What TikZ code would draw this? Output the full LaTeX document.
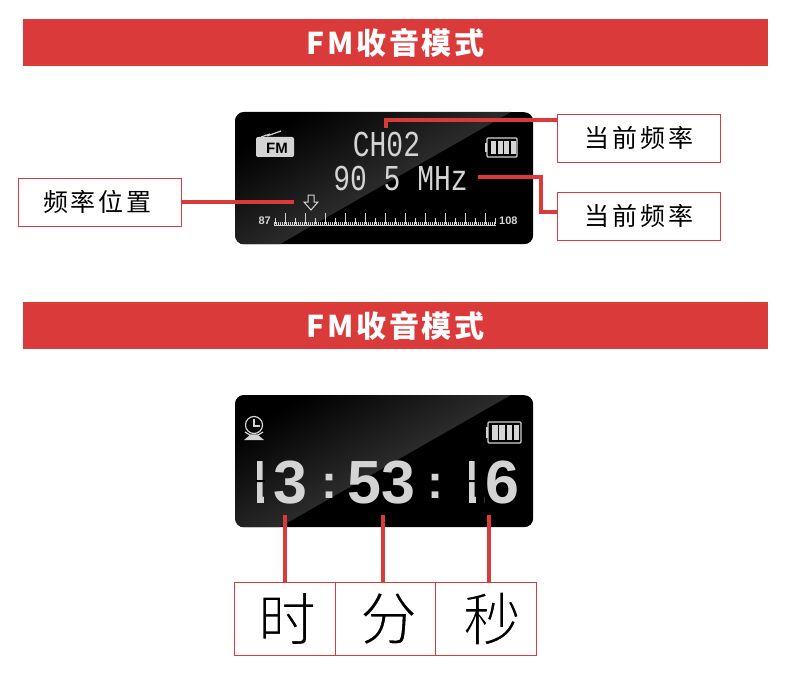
\documentclass[tikz,border=0pt]{standalone}
\usepackage{fontspec}
\usetikzlibrary{positioning}
\newfontfamily\cjk[LetterSpace=12]{Noto Sans CJK SC}
\newfontfamily\cjkbig{Noto Sans CJK SC}
\newfontfamily\cjktitle[LetterSpace=9]{Noto Sans CJK SC}
\newfontfamily\lcdfont{Liberation Mono}
\newfontfamily\digitfont{Liberation Sans}
\setsansfont{Liberation Sans}
\definecolor{bannerred}{HTML}{DB3A3A}
\definecolor{lcdgray}{HTML}{D4D4D4}
\newcommand{\thinglyph}[2]{\special{pdf:code 2 Tr 1 1 1 RG #1 w}#2\special{pdf:code 0 Tr 0 0 0 RG 1 w}}
\begin{document}
\begin{tikzpicture}[x=1pt,y=-1pt,
  banner/.style={fill=bannerred,text=white,minimum width=745pt,minimum height=47pt,inner sep=0pt,font=\cjktitle\bfseries\fontsize{30}{30}\selectfont},
  screen/.style={fill=black,rounded corners=9pt,minimum width=298pt,minimum height=132pt,inner sep=0pt,anchor=north west},
  labelbox/.style={draw=bannerred,line width=0.8pt,fill=white,minimum width=163pt,minimum height=48pt,inner sep=0pt,font=\cjk\fontsize{25}{25}\selectfont},
  bigbox/.style={draw=bannerred,line width=0.8pt,minimum width=100.5pt,minimum height=73pt,inner sep=0pt,outer sep=0pt,font=\cjkbig\fontsize{58}{58}\selectfont},
  redline/.style={draw=bannerred,line width=3.5pt},
  lcdtext/.style={text=lcdgray,inner sep=0pt,font=\lcdfont\fontsize{28}{28}\selectfont},
  lcddigit/.style={text=lcdgray,inner sep=0pt,anchor=base,font=\digitfont\bfseries\fontsize{61}{61}\selectfont},
  lcdcolon/.style={lcddigit,font=\digitfont\bfseries\fontsize{48}{48}\selectfont},
  lcdsmall/.style={text=lcdgray,inner sep=0pt,font=\sffamily\bfseries\fontsize{11}{11}\selectfont},
  lcdline/.style={draw=lcdgray,line width=1.2pt}]
  \useasboundingbox (0,0) rectangle (790,690);
  \node[banner] (bannerfm) at (395.5,42.5) {\raisebox{1pt}{FM收音模式}};
  \node[banner] (bannerclock) at (395.5,325.5) {\raisebox{1pt}{FM收音模式}};
  \foreach \sy/\sname in {112/screenfm,395/screenclock} {
    \node[screen] (\sname) at (235,\sy) {};
    \begin{scope}
      \clip[rounded corners=9pt] (\sname.north west) rectangle (\sname.south east);
      \shade[shading=axis,top color=black,bottom color=black!70!white,shading angle=30]
        (235,\sy) -- (511,\sy) -- (280,\sy+132) -- (235,\sy+132) -- cycle;
    \end{scope}
  }
  \node[lcdtext] (channel) at (386.5,145) {\scalebox{1}[1.3]{CH02}};
  \node[lcdtext] (frequency) at (400.5,179) {\scalebox{1}[1.3]{90 5 MHz}};
  \node[lcdsmall,anchor=east] (scalelow) at (271,221) {87};
  \node[lcdsmall,anchor=west] (scalehigh) at (499,221) {108};
  \draw[lcdline,line width=3pt,dash pattern=on 1pt off 1pt] (274,223.5) -- (496,223.5);
  \draw[lcdline,line width=1.6pt] (274,225.5) -- (496,225.5);
  \foreach \tx [count=\ti] in {275,285,...,495} {
    \pgfmathsetmacro\tlen{mod(\ti,2)==0 ? 11 : 6}
    \draw[lcdline,line width=1pt] (\tx,224) -- ++(0,-\tlen);
  }
  \draw[lcdline,line width=1pt] (308,195) -- (314,195) -- (314,202) -- (318,202) -- (311,210) -- (304,202) -- (308,202) -- cycle;
  \draw[lcdline,line width=1.2pt] (267,136) -- (281,131);
  \draw[lcdline,line width=1.2pt] (261,137) -- (270,134);
  \fill[lcdgray,rounded corners=2pt] (256,137) rectangle (294,157);
  \node[inner sep=0pt,text=black,font=\sffamily\bfseries\fontsize{15}{15}\selectfont] (radiofm) at (277,148) {FM};
  \foreach \bx/\by/\bw/\bh in {487/138/30/19,488/422/33/21} {
    \draw[lcdline,rounded corners=1pt] (\bx,\by) rectangle ++(\bw,\bh);
    \fill[lcdgray] (\bx-2,\by+5) rectangle ++(2,\bh-10);
    \foreach \bi in {0,1,2,3}
      \fill[lcdgray] (\bx+4+\bi*\bw/4-\bi,\by+3) rectangle ++(\bw/6,\bh-6);
  }
  \draw[lcdline] (254,425) circle (8.5pt);
  \draw[lcdline] (254,419) -- (254,426) -- (260,426);
  \draw[lcdline] (245,432) -- (250,435) -- (258,435) -- (263,432);
  \fill[lcdgray] (250,435) -- (258,435) -- (264,440) -- (244,440) -- cycle;
  \begin{scope}
    \clip (257,450) rectangle (263.5,510) (274,450) rectangle (312,510);
    \node[lcddigit] (hours) at (274,503) {13};
  \end{scope}
  \node[lcdcolon] (colonone) at (329,498) {:};
  \node[lcddigit] (minutes) at (381.5,503) {53};
  \node[lcdcolon] (colontwo) at (435,498) {:};
  \begin{scope}
    \clip (469,450) rectangle (475.5,510) (484,450) rectangle (525,510);
    \node[lcddigit] (seconds) at (486,503) {16};
  \end{scope}
  \fill[black] (256,480) rectangle (265,482) (468,480) rectangle (477,482);
  \node[labelbox] (chanlabel) at (638.5,138) {\raisebox{-2pt}{当前频率}};
  \node[labelbox] (freqlabel) at (638.5,216) {\raisebox{-2pt}{当前频率}};
  \node[labelbox] (poslabel) at (100,202) {\hspace*{-5pt}\raisebox{-2pt}{频率位置}};
  \node[bigbox] (hourbox) at (285,618.5) {\hspace*{4pt}\thinglyph{1.4}{时}};
  \node[bigbox,right=0pt of hourbox] (minutebox) {\hspace*{6pt}\thinglyph{1.4}{分}};
  \node[bigbox,right=0pt of minutebox] (secondbox) {\hspace*{12pt}\thinglyph{1.4}{秒}};
  \coordinate (chantip) at (386,128);
  \coordinate (freqtip) at (478,177);
  \coordinate (postip) at (294,202);
  \coordinate (hourtip) at (285,515);
  \coordinate (minutetip) at (383,515);
  \coordinate (secondtip) at (489,515);
  \draw[redline] (chantip) |- ([yshift=18pt]chanlabel.west);
  \draw[redline] (freqtip) -| (541,212) -- ([yshift=4pt]freqlabel.west);
  \draw[redline] (poslabel.east) -- (postip);
  \draw[redline] (hourtip) -- (hourtip |- hourbox.north);
  \draw[redline] (minutetip) -- (minutetip |- minutebox.north);
  \draw[redline] (secondtip) -- (secondtip |- secondbox.north);
\end{tikzpicture}
\end{document}
